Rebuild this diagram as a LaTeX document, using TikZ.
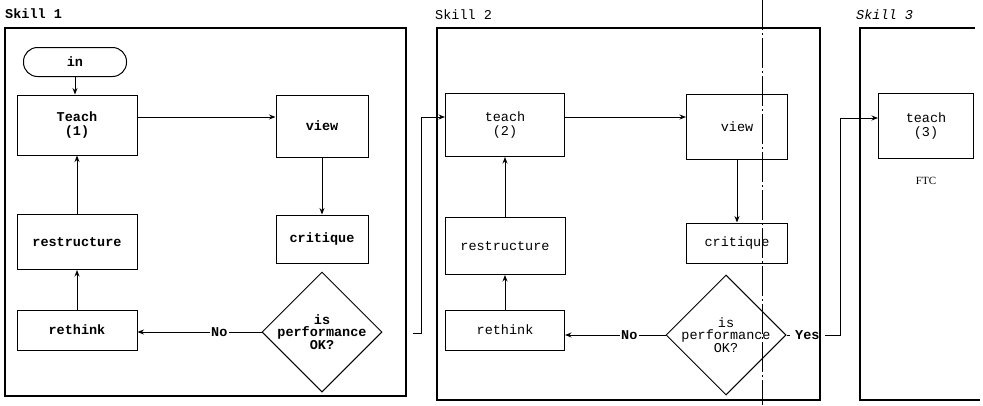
\documentclass[tikz,border=0pt]{standalone}
\usepackage{fontspec}
\setmonofont{Liberation Mono}
\newfontfamily\ftcfont{Liberation Serif}
\usetikzlibrary{arrows.meta, positioning, shapes.geometric, calc}
\newcommand{\chartfont}{\ttfamily\fontsize{13.5}{14}\selectfont}
\newcommand{\testfont}{\ttfamily\fontsize{13.5}{12.5}\selectfont}
\tikzset{
  box/.style    = {draw, line width=1pt, align=center, inner sep=2pt, font=\chartfont},
  bbox/.style   = {box, font=\chartfont\bfseries},
  term/.style   = {bbox, rounded corners=14pt, minimum width=103pt, minimum height=29pt},
  test/.style   = {diamond, draw, line width=1pt, inner sep=0pt,
                   minimum width=120pt, minimum height=120pt},
  arrow/.style  = {-{Stealth[length=6.5pt,width=5pt]}, line width=0.9pt},
  lbl/.style    = {fill=white, inner sep=1.5pt, font=\chartfont\bfseries},
  frame/.style  = {line width=1.1pt},
  skill/.style  = {anchor=west, inner sep=0pt, font=\chartfont},
  fold/.style   = {line width=0.8pt, dash pattern=on 30pt off 3pt on 2pt off 3pt},
}

\begin{document}
\begin{tikzpicture}[x=1pt, y=-1pt]
  \useasboundingbox (0,0) rectangle (983,405);
  \draw[fold] (762,0) -- (762,405);
  \node[skill, font=\chartfont\bfseries] (sk1) at (5,14) {Skill 1};
  \node[skill] (sk2) at (435,15) {Skill 2};
  \node[skill, font=\chartfont\itshape] (sk3) at (856,15) {Skill 3};

  % skill 1
  \node[term] (in1) at (75,62) {in};
  \node[bbox, minimum width=120pt, minimum height=60pt] (t1) at (77,125) {Teach\\(1)};
  \node[bbox, minimum width=92pt, minimum height=62pt] (v1) at (322,126) {view};
  \node[bbox, minimum width=92pt, minimum height=48pt] (c1) at (322,239) {critique};
  \node[test, label={[font=\testfont\bfseries, align=center]center:is\\performance\\OK?}]
    (d1) at (322,332) {};
  \node[bbox, minimum width=120pt, minimum height=55pt] (rs1) at (77,242) {restructure};
  \node[bbox, minimum width=120pt, minimum height=40pt] (rt1) at (77,330) {rethink};
  \coordinate (o1) at (413,333);

  \draw[arrow] (in1.south) -- (in1.south |- t1.north);
  \draw[arrow] ([yshift=8pt]t1.east) -- ([yshift=8pt]t1.east -| v1.west);
  \draw[arrow] (v1) -- (c1);
  \draw[arrow] (d1.west) -- node[lbl, pos=0.34] {No} (d1.west -| rt1.east);
  \draw[arrow] (rt1) -- (rs1);
  \draw[arrow] (rs1) -- (t1);

  % skill 2
  \node[box, minimum width=119pt, minimum height=63pt] (t2) at (505,125) {teach\\(2)};
  \node[box, minimum width=101pt, minimum height=65pt] (v2) at (737,127) {view};
  \node[box, minimum width=101pt, minimum height=40pt] (c2) at (737,243) {critique};
  \node[test, label={[font=\testfont, align=center]center:is\\performance\\OK?}]
    (d2) at (726,335) {};
  \node[box, minimum width=120pt, minimum height=57pt] (rs2) at (505,246) {restructure};
  \node[box, minimum width=119pt, minimum height=40pt] (rt2) at (505,330) {rethink};
  \coordinate (y2) at (840,335);

  \draw[arrow] (o1) -- ++(8,0) |- ([yshift=8pt]t2.west);
  \draw[arrow] ([yshift=8pt]t2.east) -- ([yshift=8pt]t2.east -| v2.west);
  \draw[arrow] (v2) -- (c2);
  \draw[arrow] (d2.west) -- node[lbl, pos=0.36] {No} (d2.west -| rt2.east);
  \draw[arrow] (rt2) -- (rs2);
  \draw[arrow] (rs2) -- (t2);

  % skill 3
  \node[box, minimum width=95pt, minimum height=65pt] (t3) at (926,126) {teach\\(3)};
  \node[below=15pt of t3, font=\ftcfont\fontsize{11}{13}\selectfont] (ftc) {FTC};
  \draw[arrow] (d2.east) -- node[lbl, pos=0.39, inner xsep=5pt] {Yes} (y2)
    |- ([yshift=8pt]t3.west);

  % frames of the three skills
  \draw[frame] (5,28) rectangle (406,396);
  \draw[frame] (437,28) rectangle (820,400);
  \draw[frame] (975,28) -- (860,28) -- (860,400) -- (980,400);
\end{tikzpicture}
\end{document}
